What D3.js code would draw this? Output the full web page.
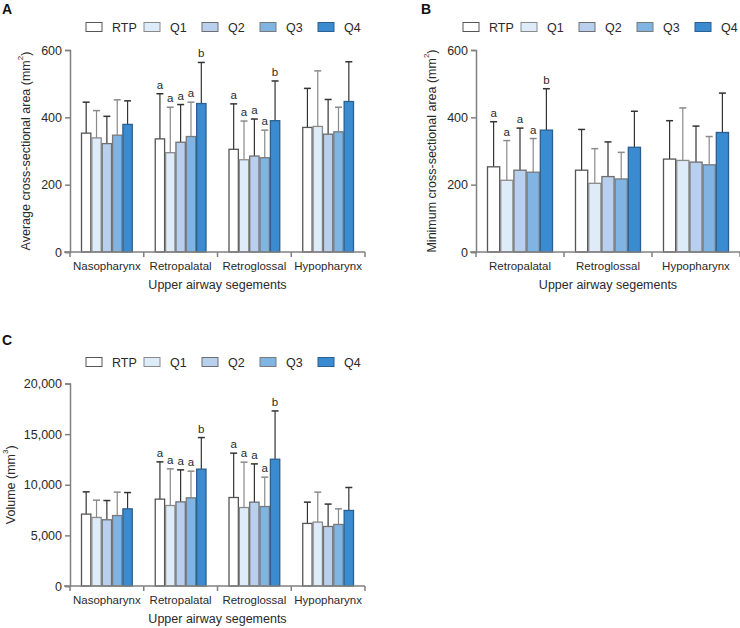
<!DOCTYPE html>
<html><head><meta charset="utf-8">
<script src="https://cdn.jsdelivr.net/npm/d3@7"></script>
<style>
body{margin:0;background:#fff;}
svg{font-family:"Liberation Sans",Arial,sans-serif;}
</style></head>
<body><svg id="c" width="740" height="628"></svg>
<script>
const groups = ["RTP","Q1","Q2","Q3","Q4"];
const groupColors = ["#ffffff","#deebf8","#b8d0ee","#80b5e3","#3b8bd0"];
const groupStrokes = ["#555555","#8a8a8a","#6f6f6f","#7a7a7a","#2b5f8f"];
const errColors = ["#333333","#8a8a8a","#333333","#8a8a8a","#333333"];

const catsAC = ["Nasopharynx","Retropalatal","Retroglossal","Hypopharynx"];
const catsB = ["Retropalatal","Retroglossal","Hypopharynx"];
const ticksAB = [0,200,400,600];
const ticksC = [0,5000,10000,15000,20000];

const avgMean = [[353,339,322,347,379],[336,295,326,343,441],[305,274,285,280,390],[370,373,350,357,447]];
const avgUpper = [[445,420,403,452,449],[470,430,438,445,563],[440,389,395,362,508],[486,538,453,430,565]];
const avgLetters = [["","","","",""],["a","a","a","a","b"],["a","a","a","a","b"],["","","","",""]];

const minMean = [[253,213,243,237,362],[243,204,224,217,311],[276,272,267,259,355]];
const minUpper = [[387,331,368,337,485],[364,307,327,296,418],[390,428,374,343,472]];
const minLetters = [["a","a","a","a","b"],["","","","",""],["","","","",""]];

const volMean = [[7100,6770,6540,6960,7620],[8580,7950,8310,8710,11540],[8740,7750,8280,7850,12520],[6180,6310,5880,6080,7460]];
const volUpper = [[9300,8480,8440,9270,9230],[12260,11570,11470,11340,14660],[13120,12230,12060,10750,17290],[8280,9270,8090,7620,9730]];
const volLetters = [["","","","",""],["a","a","a","a","b"],["a","a","a","a","b"],["","","","",""]];

const svg = d3.select("#c");
const axisColor = "#808080";
const textColor = "#2a2a2a";

function panel(o){
  const g = svg.append("g");
  g.append("text").attr("x",o.letterX).attr("y",o.letterY).attr("font-size",14).attr("font-weight","bold").attr("fill","#111").text(o.letter);
  const lg = g.append("g");
  groups.forEach((k,i)=>{
    const lx = o.legendX + i*58;
    lg.append("rect").attr("x",lx).attr("y",o.legendY-4.5).attr("width",16).attr("height",9)
      .attr("fill",groupColors[i]).attr("stroke",groupStrokes[i]).attr("stroke-width",1);
    lg.append("text").attr("x",lx+26).attr("y",o.legendY).attr("dy","0.36em").attr("font-size",12.5).attr("fill",textColor).text(k);
  });
  const x = d3.scaleBand().domain(o.cats).range([o.x0,o.x1]).paddingInner(0).paddingOuter(0);
  const inner = d3.scaleBand().domain(groups).range([11, x.bandwidth()-11]).padding(0);
  const y = d3.scaleLinear().domain([o.ticks[0],o.ticks[o.ticks.length-1]]).range([o.yBottom,o.yTop]);

  o.cats.forEach((c,ci)=>{
    groups.forEach((k,gi)=>{
      const bx = x(c)+inner(k);
      const bw = inner.bandwidth();
      const cx = bx + bw/2;
      const m = o.mean[ci][gi], u = o.upper[ci][gi];
      g.append("line").attr("x1",cx).attr("x2",cx).attr("y1",y(m)).attr("y2",y(u))
        .attr("stroke",errColors[gi]).attr("stroke-width",1.2);
      g.append("line").attr("x1",cx-3.5).attr("x2",cx+3.5).attr("y1",y(u)).attr("y2",y(u))
        .attr("stroke",errColors[gi]).attr("stroke-width",1.5);
      g.append("rect").attr("x",bx+0.5).attr("y",y(m)).attr("width",bw-1).attr("height",y(0)-y(m))
        .attr("fill",groupColors[gi]).attr("stroke",groupStrokes[gi]).attr("stroke-width",1.3);
      const lt = o.letters[ci][gi];
      if(lt){
        g.append("text").attr("x",cx).attr("y",y(u)-5).attr("text-anchor","middle").attr("font-size",11.5).attr("fill",textColor).text(lt);
      }
    });
  });

  const ya = g.append("g").attr("transform",`translate(${o.x0},0)`)
    .call(d3.axisLeft(y).tickValues(o.ticks).tickSize(5).tickPadding(3).tickFormat(o.fmt));
  ya.select(".domain").attr("stroke",axisColor).attr("stroke-width",1.5);
  ya.selectAll(".tick line").attr("stroke",axisColor).attr("stroke-width",1.5);
  ya.selectAll("text").attr("font-size",12.5).attr("fill",textColor).attr("font-family","Liberation Sans, Arial, sans-serif");

  const xa = g.append("g").attr("transform",`translate(0,${o.yBottom})`);
  xa.append("line").attr("x1",o.x0-6).attr("x2",o.x1).attr("y1",0).attr("y2",0).attr("stroke",axisColor).attr("stroke-width",1.5);
  const bounds = o.cats.map(c=>x(c)).concat([o.x1]);
  bounds.forEach(b=>{
    xa.append("line").attr("x1",b).attr("x2",b).attr("y1",0).attr("y2",5).attr("stroke",axisColor).attr("stroke-width",1.5);
  });
  o.cats.forEach(c=>{
    xa.append("text").attr("x",x(c)+x.bandwidth()/2).attr("y",14).attr("dy","0.35em").attr("text-anchor","middle")
      .attr("font-size",11.5).attr("fill",textColor).text(c);
  });
  xa.append("text").attr("x",(o.x0+o.x1)/2).attr("y",33).attr("dy","0.35em").attr("text-anchor","middle")
    .attr("font-size",12.5).attr("fill",textColor).text("Upper airway segements");

  const yt = g.append("text").attr("transform",`translate(${o.yTitleX},${(o.yTop+o.yBottom)/2}) rotate(-90)`)
    .attr("text-anchor","middle").attr("dy","0.35em").attr("font-size",12.5).attr("fill",textColor);
  yt.append("tspan").text(o.yTitle+" (mm");
  yt.append("tspan").attr("font-size",8).attr("dy","-0.9em").text(o.sup);
  yt.append("tspan").attr("dy","0.55em").text(")");
}

panel({letter:"A",letterX:2,letterY:14,legendX:86,legendY:27,cats:catsAC,x0:70,x1:365,yTop:50,yBottom:252,
  ticks:ticksAB,fmt:d3.format("d"),mean:avgMean,upper:avgUpper,letters:avgLetters,
  yTitle:"Average cross-sectional area",sup:"2",yTitleX:26});
panel({letter:"B",letterX:421,letterY:14,legendX:463,legendY:27,cats:catsB,x0:476,x1:740,yTop:50,yBottom:252,
  ticks:ticksAB,fmt:d3.format("d"),mean:minMean,upper:minUpper,letters:minLetters,
  yTitle:"Minimum cross-sectional area",sup:"2",yTitleX:432});
panel({letter:"C",letterX:2,letterY:345,legendX:86,legendY:362,cats:catsAC,x0:70,x1:365,yTop:383.5,yBottom:586,
  ticks:ticksC,fmt:d3.format(","),mean:volMean,upper:volUpper,letters:volLetters,
  yTitle:"Volume",sup:"3",yTitleX:11});
</script></body></html>
